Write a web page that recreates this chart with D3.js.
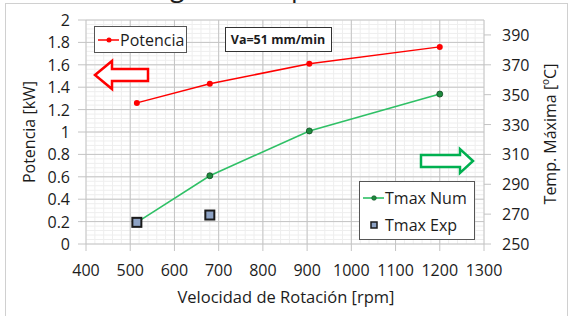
<!DOCTYPE html>
<html lang="es">
<head>
  <meta charset="UTF-8">
  <script src="https://d3js.org/d3.v7.min.js"></script>
  <style>
    body { margin: 0; background: white; }
    text { font-family: "Open Sans", sans-serif; fill: #1c1c1c; }
  </style>
</head>
<body>
  <div id="chart"></div>
  <script>
    // datos
    const rpm = [515, 680, 905, 1200];
    const potencia = [1.26, 1.43, 1.61, 1.76];
    const tmaxNum = [264.5, 295.7, 325.7, 350.4];
    const rpmExp = [515, 680];
    const tmaxExp = [264.5, 269.4];

    const xTicks = [400, 500, 600, 700, 800, 900, 1000, 1100, 1200, 1300];
    const yLeftTicks = [0, 0.2, 0.4, 0.6, 0.8, 1, 1.2, 1.4, 1.6, 1.8, 2];
    const yRightTicks = [250, 270, 290, 310, 330, 350, 370, 390];

    const W = 571, H = 316;
    const pLeft = 86, pRight = 484, pTop = 20, pBottom = 244;

    const svg = d3.select("#chart").append("svg")
      .attr("width", W).attr("height", H);

    const x = d3.scaleLinear().domain([400, 1300]).range([pLeft, pRight]);
    const y = d3.scaleLinear().domain([0, 2]).range([pBottom, pTop]);
    const y2 = d3.scaleLinear().domain([250, 400]).range([pBottom, pTop]);

    // marco exterior
    svg.append("rect")
      .attr("x", 5.5).attr("y", 3.5)
      .attr("width", 562).attr("height", 330)
      .attr("fill", "none").attr("stroke", "#d0d0d0");

    // titulo (cortado arriba)
    const title = svg.append("text")
      .attr("y", -4)
      .style("font-size", "26px")
      .text("Influencia de la velocidad de giro en la potencia");
    const full = title.text();
    const gi = full.indexOf("giro"), pi = full.indexOf("potencia");
    const node = title.node();
    const dist = node.getStartPositionOfChar(pi).x - node.getStartPositionOfChar(gi).x;
    title.style("font-size", (26 * 121 / dist) + "px");
    const gx = node.getStartPositionOfChar(gi).x;
    title.attr("x", 170 - gx);

    // rejilla menor
    const g = svg.append("g");
    g.selectAll(".minx").data(d3.range(400, 1301, 20)).enter().append("line")
      .attr("x1", d => x(d)).attr("x2", d => x(d))
      .attr("y1", pTop).attr("y2", pBottom)
      .attr("stroke", "#eeeeee");
    g.selectAll(".miny").data(d3.range(0, 2.001, 0.04)).enter().append("line")
      .attr("x1", pLeft).attr("x2", pRight)
      .attr("y1", d => y(d)).attr("y2", d => y(d))
      .attr("stroke", "#eeeeee");

    // rejilla mayor con marcas
    g.selectAll(".majx").data(xTicks).enter().append("line")
      .attr("x1", d => x(d)).attr("x2", d => x(d))
      .attr("y1", pTop).attr("y2", pBottom + 7)
      .attr("stroke", "#c4c4c4");
    g.selectAll(".majy").data(yLeftTicks).enter().append("line")
      .attr("x1", pLeft - 8).attr("x2", pRight)
      .attr("y1", d => y(d)).attr("y2", d => y(d))
      .attr("stroke", "#c4c4c4");
    g.selectAll(".tick2").data(yRightTicks).enter().append("line")
      .attr("x1", pRight).attr("x2", pRight + 7)
      .attr("y1", d => y2(d)).attr("y2", d => y2(d))
      .attr("stroke", "#c4c4c4");

    // etiquetas de ejes
    svg.selectAll(".xl").data(xTicks).enter().append("text")
      .attr("x", d => x(d)).attr("y", 276)
      .attr("text-anchor", "middle").style("font-size", "16px")
      .text(d => d);
    svg.selectAll(".yl").data(yLeftTicks).enter().append("text")
      .attr("x", 70).attr("y", d => y(d) + 6)
      .attr("text-anchor", "end").style("font-size", "16px")
      .text(d => d);
    svg.selectAll(".yr").data(yRightTicks).enter().append("text")
      .attr("x", 502).attr("y", d => y2(d) + 6)
      .style("font-size", "16px")
      .text(d => d);

    svg.append("text")
      .attr("x", 286).attr("y", 303)
      .attr("text-anchor", "middle").style("font-size", "16.5px")
      .text("Velocidad de Rotación [rpm]");
    svg.append("text")
      .attr("transform", "translate(35,132) rotate(-90)")
      .attr("text-anchor", "middle").style("font-size", "16px")
      .text("Potencia [kW]");
    svg.append("text")
      .attr("transform", "translate(556,134) rotate(-90)")
      .attr("text-anchor", "middle").style("font-size", "16px")
      .text("Temp. Máxima [ºC]");

    // series
    const line = d3.line();
    svg.append("path")
      .attr("d", line(rpm.map((d, i) => [x(d), y2(tmaxNum[i])])))
      .attr("fill", "none").attr("stroke", "#2fc066").attr("stroke-width", 1.6);
    svg.selectAll(".pn").data(rpm).enter().append("circle")
      .attr("cx", d => x(d)).attr("cy", (d, i) => y2(tmaxNum[i]))
      .attr("r", 3).attr("fill", "#1f8a3e").attr("stroke", "#0d4a1f").attr("stroke-width", 0.8);

    svg.append("path")
      .attr("d", line(rpm.map((d, i) => [x(d), y(potencia[i])])))
      .attr("fill", "none").attr("stroke", "#ff0000").attr("stroke-width", 1.5);
    svg.selectAll(".pp").data(rpm).enter().append("circle")
      .attr("cx", d => x(d)).attr("cy", (d, i) => y(potencia[i]))
      .attr("r", 3).attr("fill", "#ff0000");

    svg.selectAll(".pe").data(rpmExp).enter().append("rect")
      .attr("x", d => x(d) - 4.5).attr("y", (d, i) => y2(tmaxExp[i]) - 4.5)
      .attr("width", 9).attr("height", 9)
      .attr("fill", "#8da2c4").attr("stroke", "#1a1a1a").attr("stroke-width", 2);

    // flechas
    svg.append("path")
      .attr("d", "M95,75 L112,61 L112,69 L148,69 L148,81 L112,81 L112,89 Z")
      .attr("fill", "white").attr("stroke", "#ff0000").attr("stroke-width", 2.5);
    svg.append("path")
      .attr("d", "M473,161 L460,149 L460,155 L421,155 L421,167 L460,167 L460,173 Z")
      .attr("fill", "white").attr("stroke", "#00b050").attr("stroke-width", 2.5);

    // leyenda potencia
    svg.append("rect").attr("x", 94.5).attr("y", 26.5).attr("width", 92).attr("height", 26)
      .attr("fill", "white").attr("stroke", "#555");
    svg.append("line").attr("x1", 98).attr("x2", 119).attr("y1", 40).attr("y2", 40)
      .attr("stroke", "#ff0000").attr("stroke-width", 1.5);
    svg.append("circle").attr("cx", 109).attr("cy", 40).attr("r", 2.5).attr("fill", "#ff0000");
    svg.append("text").attr("x", 120).attr("y", 46).style("font-size", "16px").text("Potencia");

    // caja Va
    svg.append("rect").attr("x", 225.5).attr("y", 27.5).attr("width", 106).attr("height", 24)
      .attr("fill", "white").attr("stroke", "#333");
    svg.append("text").attr("x", 278).attr("y", 44).attr("text-anchor", "middle")
      .style("font-size", "12.5px").style("font-weight", "bold").text("Va=51 mm/min");

    // leyenda temperatura
    svg.append("rect").attr("x", 359.5).attr("y", 181.5).attr("width", 115).attr("height", 58)
      .attr("fill", "white").attr("stroke", "#555");
    svg.append("line").attr("x1", 363).attr("x2", 384).attr("y1", 198).attr("y2", 198)
      .attr("stroke", "#2fc066").attr("stroke-width", 1.6);
    svg.append("circle").attr("cx", 374).attr("cy", 198).attr("r", 2.3)
      .attr("fill", "#1f8a3e").attr("stroke", "#0d4a1f").attr("stroke-width", 0.6);
    svg.append("text").attr("x", 385).attr("y", 204).style("font-size", "16px").text("Tmax Num");
    svg.append("rect").attr("x", 371).attr("y", 222).attr("width", 6).attr("height", 6)
      .attr("fill", "#8da2c4").attr("stroke", "#1a1a1a").attr("stroke-width", 1.5);
    svg.append("text").attr("x", 385).attr("y", 231).style("font-size", "16px").text("Tmax Exp");
  </script>
</body>
</html>
